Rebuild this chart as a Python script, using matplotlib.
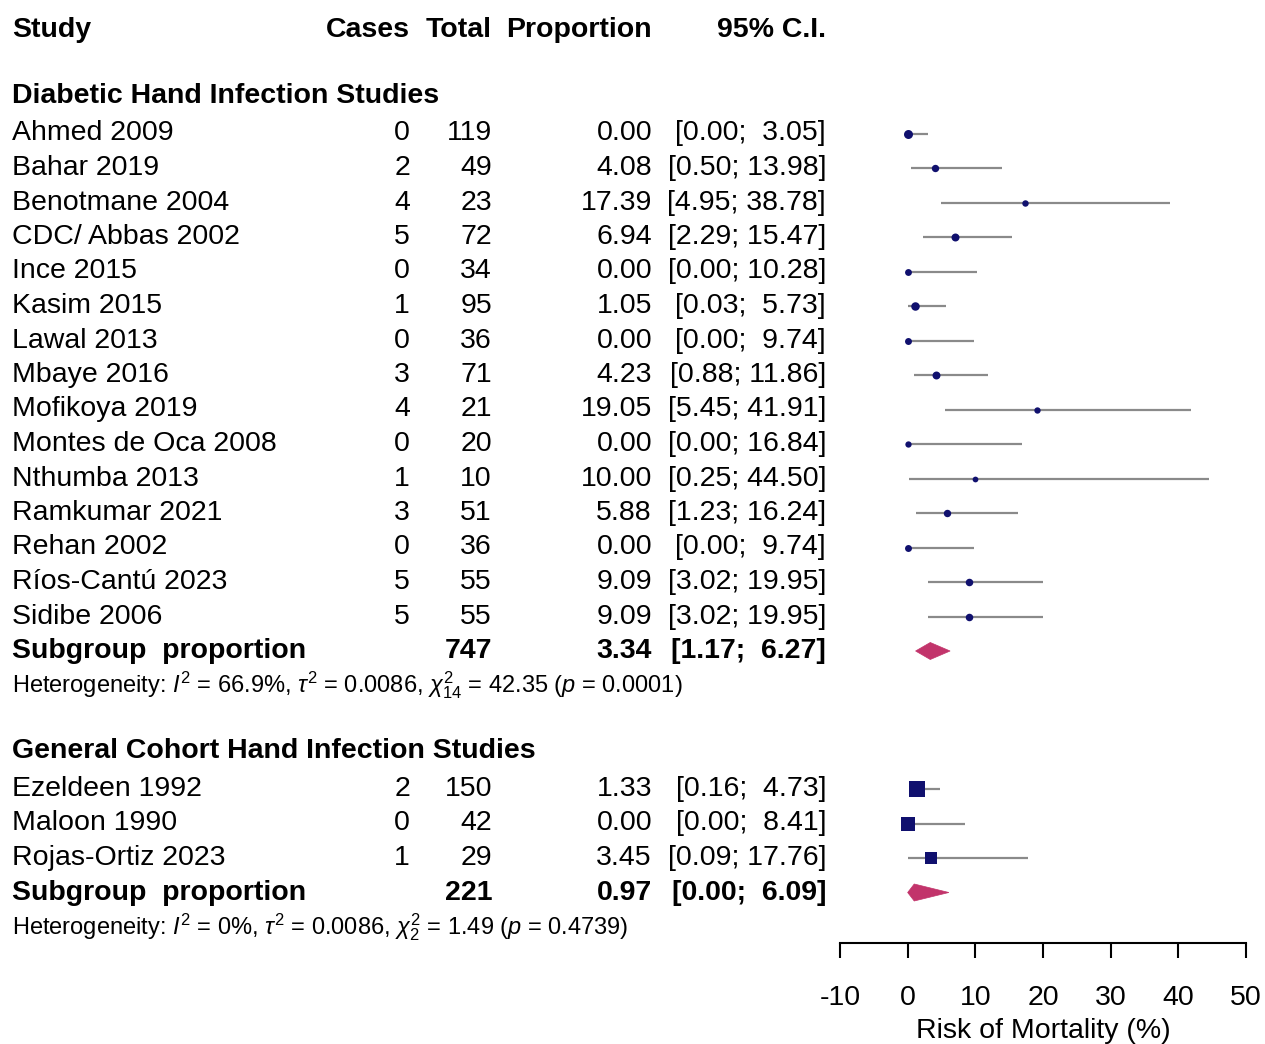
import matplotlib
matplotlib.use("Agg")
import matplotlib.pyplot as plt
from matplotlib.patches import Polygon

plt.rcParams['font.family'] = ['Liberation Sans', 'DejaVu Sans']
plt.rcParams['mathtext.fontset'] = 'custom'
plt.rcParams['mathtext.rm'] = 'Liberation Sans'
plt.rcParams['mathtext.it'] = 'Liberation Sans:italic'
plt.rcParams['axes.unicode_minus'] = False

# --- data ---
studies1 = ["Ahmed 2009", "Bahar 2019", "Benotmane 2004", "CDC/ Abbas 2002", "Ince 2015",
            "Kasim 2015", "Lawal 2013", "Mbaye 2016", "Mofikoya 2019", "Montes de Oca 2008",
            "Nthumba 2013", "Ramkumar 2021", "Rehan 2002", "Ríos-Cantú 2023", "Sidibe 2006"]
cases1 = [0, 2, 4, 5, 0, 1, 0, 3, 4, 0, 1, 3, 0, 5, 5]
total1 = [119, 49, 23, 72, 34, 95, 36, 71, 21, 20, 10, 51, 36, 55, 55]
prop1 = [0.00, 4.08, 17.39, 6.94, 0.00, 1.05, 0.00, 4.23, 19.05, 0.00, 10.00, 5.88, 0.00, 9.09, 9.09]
lo1 = [0.00, 0.50, 4.95, 2.29, 0.00, 0.03, 0.00, 0.88, 5.45, 0.00, 0.25, 1.23, 0.00, 3.02, 3.02]
hi1 = [3.05, 13.98, 38.78, 15.47, 10.28, 5.73, 9.74, 11.86, 41.91, 16.84, 44.50, 16.24, 9.74, 19.95, 19.95]
pooled1 = (747, 3.34, 1.17, 6.27)
het1 = r"Heterogeneity: $I^2$ = 66.9%, $\tau^2$ = 0.0086, $\chi^2_{14}$ = 42.35 ($p$ = 0.0001)"

studies2 = ["Ezeldeen 1992", "Maloon 1990", "Rojas-Ortiz 2023"]
cases2 = [2, 0, 1]
total2 = [150, 42, 29]
prop2 = [1.33, 0.00, 3.45]
lo2 = [0.16, 0.00, 0.09]
hi2 = [4.73, 8.41, 17.76]
pooled2 = (221, 0.97, 0.00, 6.09)
het2 = r"Heterogeneity: $I^2$ = 0%, $\tau^2$ = 0.0086, $\chi^2_2$ = 1.49 ($p$ = 0.4739)"

group_titles = ["Diabetic Hand Infection Studies", "General Cohort Hand Infection Studies"]
xticks = [-10, 0, 10, 20, 30, 40, 50]

# --- layout (pixel units, y from top) ---
W, H = 1265, 1044
y0, step = 30.0, 34.5
def row_y(k):
    return y0 + step * k

x_study, x_cases, x_total, x_prop, x_ci = 12, 410, 492, 652, 826
fs = 20.5
fs_het = 17
line_col = '#8a8a8a'
mark_col = '#10106e'
diam_col = '#c2346b'

fig = plt.figure(figsize=(W / 100, H / 100), dpi=100)
tax = fig.add_axes([0, 0, 1, 1])
tax.set_xlim(0, W)
tax.set_ylim(H, 0)
tax.axis('off')

axis_y = 943
fax = fig.add_axes([840 / W, 1 - axis_y / H, 406 / W, axis_y / H])
fax.set_xlim(-10, 50)
fax.set_ylim(axis_y, 0)
fax.patch.set_alpha(0)
for s in ['left', 'right', 'top']:
    fax.spines[s].set_visible(False)
fax.spines['bottom'].set_linewidth(1.5)
fax.set_yticks([])
fax.set_xticks(xticks)
fax.set_xticklabels([str(t) for t in xticks])
fax.tick_params(axis='x', direction='out', length=11, width=1.5, pad=19.5, labelsize=fs)
fax.set_xlabel('Risk of Mortality (%)', fontsize=fs, labelpad=5)


def txt(x, y, s, ha='right', bold=False, size=fs):
    tax.text(x, y, s, ha=ha, va='center', fontsize=size,
             fontweight='bold' if bold else 'normal')


def ci_str(lo, hi):
    return f"[{lo:.2f}; {hi:5.2f}]"


# header
txt(x_study, row_y(0), "Study", ha='left', bold=True)
txt(x_cases, row_y(0), "Cases", bold=True)
txt(x_total, row_y(0), "Total", bold=True)
txt(x_prop, row_y(0), "Proportion", bold=True)
txt(x_ci, row_y(0), "95% C.I.", bold=True)

groups = [
    (studies1, cases1, total1, prop1, lo1, hi1, pooled1, het1, 2, 'o', 3.2, 0.3),
    (studies2, cases2, total2, prop2, lo2, hi2, pooled2, het2, 21, 's', 7.0, 0.37),
]

for gi, (names, cases, totals, props, los, his, pooled, het, k0, mk, ms0, ms1) in enumerate(groups):
    txt(x_study, row_y(k0) - 3, group_titles[gi], ha='left', bold=True)
    for i, name in enumerate(names):
        y = row_y(k0 + 1 + i)
        txt(x_study, y, name, ha='left')
        txt(x_cases, y, str(cases[i]))
        txt(x_total, y, str(totals[i]))
        txt(x_prop, y, f"{props[i]:.2f}")
        txt(x_ci, y, ci_str(los[i], his[i]))
        fax.plot([los[i], his[i]], [y, y], color=line_col, lw=1.6, solid_capstyle='butt', zorder=2)
        fax.plot([props[i]], [y], marker=mk, color=mark_col, markersize=ms0 + ms1 * totals[i] ** 0.5,
                 markeredgewidth=0, zorder=3)
    ys = row_y(k0 + 1 + len(names))
    n, est, plo, phi = pooled
    txt(x_study, ys, "Subgroup  proportion", ha='left', bold=True)
    txt(x_total, ys, str(n), bold=True)
    txt(x_prop, ys, f"{est:.2f}", bold=True)
    txt(x_ci, ys, ci_str(plo, phi), bold=True)
    hh = 8.5
    fax.add_patch(Polygon([(plo, ys), (est, ys - hh), (phi, ys), (est, ys + hh)],
                          closed=True, facecolor=diam_col, edgecolor=diam_col, lw=0.5, zorder=3))
    txt(x_study, row_y(k0 + 2 + len(names)), het, ha='left', size=fs_het)

fig.savefig('out.png', dpi=100)
